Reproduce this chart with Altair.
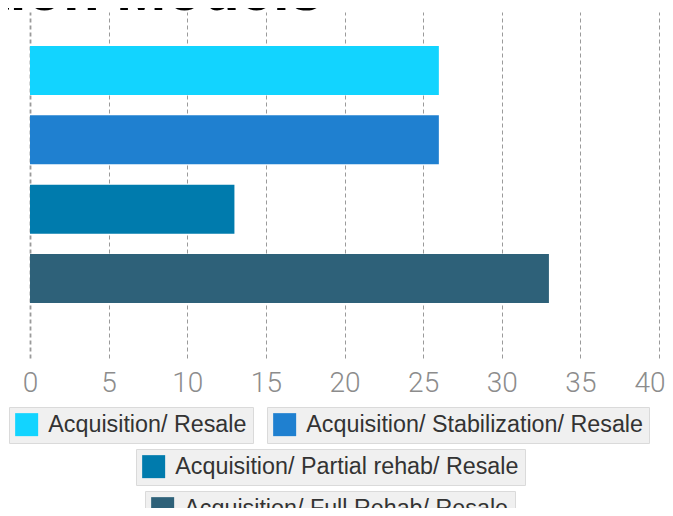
import altair as alt
import pandas as pd

TITLE = "Acquisition Models"
categories = [
    "Acquisition/ Resale",
    "Acquisition/ Stabilization/ Resale",
    "Acquisition/ Partial rehab/ Resale",
    "Acquisition/ Full Rehab/ Resale",
]
values = [26, 26, 13, 33]
colors = ["#12d4ff", "#1f80d0", "#007bad", "#2e6179"]
x_ticks = [0, 5, 10, 15, 20, 25, 30, 35, 40]

df = pd.DataFrame({"cat": categories, "value": values})

legend_pos = [(-21, 395), (237, 395), (106, 437), (115, 479)]

x_enc = alt.X(
    "value:Q",
    scale=alt.Scale(domain=[0, 40], nice=False),
    axis=alt.Axis(
        values=x_ticks,
        title=None,
        grid=True,
        gridColor="#9a9a9a",
        gridDash=[4, 3],
        gridWidth={"condition": {"test": "datum.value === 0", "value": 1.8}, "value": 1},
        domain=False,
        ticks=False,
        labelFlush=False,
        labelAlign={"condition": {"test": "datum.value === 40", "value": "right"}, "value": "center"},
        labelOffset={"condition": {"test": "datum.value === 40", "value": 6}, "value": 0},
        labelFont="Roboto",
        labelFontWeight=300,
        labelFontSize=28,
        labelColor="#8c8c8c",
        labelPadding=11,
    ),
)
y_enc = alt.Y(
    "cat:N",
    sort=categories,
    axis=None,
    scale=alt.Scale(domain=categories, paddingInner=0.293, paddingOuter=0.642, align=0.382),
)

layers = []
for i, (c, col) in enumerate(zip(categories, colors)):
    lx, ly = legend_pos[i]
    layers.append(
        alt.Chart(df)
        .transform_filter(alt.datum.cat == c)
        .mark_bar()
        .encode(
            x=x_enc,
            y=y_enc,
            color=alt.Color(
                "cat:N",
                scale=alt.Scale(domain=[c], range=[col]),
                legend=alt.Legend(
                    title=None,
                    orient="none",
                    legendX=lx,
                    legendY=ly,
                    fillColor="#f0f0f0",
                    strokeColor="#dadada",
                    padding=6,
                    symbolType="square",
                    symbolSize=529,
                    symbolStrokeWidth=0,
                    labelFont="Liberation Sans",
                    labelFontSize=23.3,
                    labelColor="#333333",
                    labelOffset=10,
                    labelLimit=600,
                ),
            ),
        )
    )

title_layer = alt.Chart(pd.DataFrame({"t": [TITLE]})).mark_text(
    align="right", baseline="alphabetic", font="Liberation Sans", fontWeight="bold",
    fontSize=60, color="#000000"
).encode(x=alt.value(293), y=alt.value(-2), text="t:N")

chart = (
    alt.layer(*layers, title_layer)
    .resolve_scale(color="independent")
    .properties(
        width=629,
        height=346,
        padding={"left": 22, "top": 4, "right": 6, "bottom": 150},
        autosize=alt.AutoSizeParams(type="none"),
    )
    .configure_view(stroke=None)
)

chart.save("out.html", embed_options={"renderer": "svg", "actions": False})
